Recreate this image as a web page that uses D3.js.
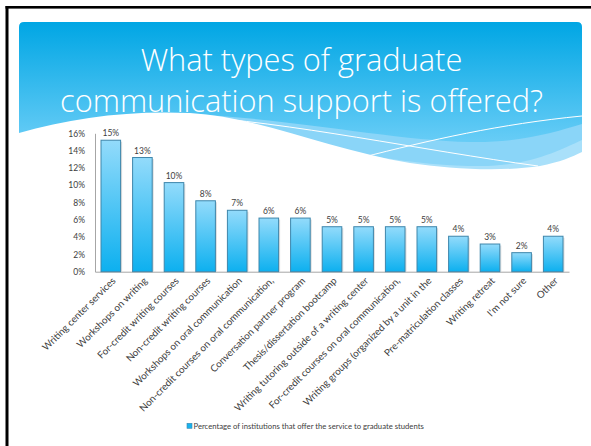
<!DOCTYPE html>
<html><head><meta charset="utf-8">
<script src="https://cdn.jsdelivr.net/npm/d3@7"></script>
<style>body{margin:0;background:#fff}svg{display:block}</style>
</head><body>
<svg id="c" width="591" height="446"></svg>
<script>
const categories = [
  "Writing center services",
  "Workshops on writing",
  "For-credit writing courses",
  "Non-credit writing courses",
  "Workshops on oral communication",
  "Non-credit courses on oral communication,",
  "Conversation partner program",
  "Thesis/dissertation bootcamp",
  "Writing tutoring outside of a writing center",
  "For-credit courses on oral communication,",
  "Writing groups (organized by a unit in the",
  "Pre-matriculation classes",
  "Writing retreat",
  "I'm not sure",
  "Other"
];
const values = [15.2, 13.2, 10.3, 8.2, 7.1, 6.2, 6.2, 5.2, 5.2, 5.2, 5.2, 4.1, 3.2, 2.2, 4.1];
const valueLabels = ["15%","13%","10%","8%","7%","6%","6%","5%","5%","5%","5%","4%","3%","2%","4%"];
const yTicks = [0, 2, 4, 6, 8, 10, 12, 14, 16];
const yTickLabels = ["0%","2%","4%","6%","8%","10%","12%","14%","16%"];
const titleLines = ["What types of graduate", "communication support is offered?"];
const seriesName = "Percentage of institutions that offer the service to graduate students";

const svg = d3.select("#c");
const defs = svg.append("defs");
const FONT = "Lato, 'Open Sans', sans-serif";

const hg = defs.append("linearGradient").attr("id","hg")
  .attr("gradientUnits","userSpaceOnUse").attr("x1",0).attr("y1",22).attr("x2",0).attr("y2",140);
hg.append("stop").attr("offset",0).attr("stop-color","#00a6e4");
hg.append("stop").attr("offset",1).attr("stop-color","#66ccf6");

const bg = defs.append("linearGradient").attr("id","bg").attr("x1",0).attr("y1",0).attr("x2",0).attr("y2",1);
bg.append("stop").attr("offset",0).attr("stop-color","#93dbfb");
bg.append("stop").attr("offset",1).attr("stop-color","#0db0ef");

// slide frame (left and top edges)
svg.append("rect").attr("x",5.5).attr("y",6).attr("width",3).attr("height",440).attr("fill","#000");
svg.append("rect").attr("x",5.5).attr("y",6).attr("width",586).attr("height",2.6).attr("fill","#000");

// header
const hdr = svg.append("g");
hdr.append("path")
  .attr("d","M19,180 L19,27 Q19,22 24,22 L577,22 Q582,22 582,27 L582,180 Z")
  .attr("fill","url(#hg)");
hdr.append("path")
  .attr("d","M185,114 C290,118 390,140 470,142 C520,143 555,132 582,124 L582,180 L185,180 Z")
  .attr("fill","#8ad5f8");
hdr.append("path")
  .attr("d","M230,125 C330,150 410,166 480,166 C530,166 560,150 582,140 L582,180 L230,180 Z")
  .attr("fill","#a9e0fa");
hdr.append("path")
  .attr("d","M19,133 C70,118 130,110 190,113 C260,117 330,150 410,163 C450,169 500,172 540,166 C560,162 572,157 582,152 L582,200 L19,200 Z")
  .attr("fill","#fff");
hdr.append("path")
  .attr("d","M185,116 C290,122 420,150 538,166")
  .attr("fill","none").attr("stroke","#fff").attr("stroke-width",1);
hdr.append("path")
  .attr("d","M360,158 C430,140 500,124 582,116")
  .attr("fill","none").attr("stroke","#fff").attr("stroke-width",1);

// title
const tg = svg.append("g").attr("fill","#fff").attr("font-family","'Open Sans', Lato, sans-serif")
  .attr("font-weight",300).attr("text-anchor","middle");
const tl = tg.selectAll("text").data(titleLines).join("text")
  .attr("x",301.5).attr("y",(d,i)=> i===0 ? 71 : 112)
  .attr("font-size",30).text(d=>d);
const w2 = tl.nodes()[1].getComputedTextLength();
tl.attr("font-size", 30 * 483 / w2);

// scales
const x = d3.scaleBand().domain(categories).range([95, 569]).paddingInner(0.38).paddingOuter(0.19);
const y = d3.scaleLinear().domain([0, 16]).range([271.7, 133.3]);

// y axis
const ya = svg.append("g").attr("transform","translate(95,0)")
  .call(d3.axisLeft(y).tickValues(yTicks).tickFormat((d,i)=>yTickLabels[i]).tickSize(0).tickPadding(10));
ya.select(".domain").attr("stroke","#a6a6a6").attr("stroke-width",1);
ya.selectAll("text").attr("font-family",FONT).attr("font-size",8.5).attr("fill","#404040");

// x axis
const xa = svg.append("g").attr("transform","translate(0,271.7)")
  .call(d3.axisBottom(x).tickSize(0).tickFormat(""));
xa.select(".domain").attr("stroke","#a6a6a6").attr("stroke-width",1);

// bars
const bars = svg.append("g");
bars.selectAll("rect.sh").data(values).join("rect").attr("class","sh")
  .attr("x",(d,i)=>x(categories[i])+1.5).attr("y",d=>y(d)+1.5)
  .attr("width",x.bandwidth()).attr("height",d=>y(0)-y(d)-1.5)
  .attr("fill","#cfcfcf").attr("opacity",0.7);
bars.selectAll("rect.b").data(values).join("rect").attr("class","b")
  .attr("x",(d,i)=>x(categories[i])).attr("y",d=>y(d))
  .attr("width",x.bandwidth()).attr("height",d=>y(0)-y(d))
  .attr("fill","url(#bg)").attr("stroke","#3e86ab").attr("stroke-width",1);

// value labels
svg.append("g").selectAll("text").data(values).join("text")
  .attr("x",(d,i)=>x(categories[i])+x.bandwidth()/2).attr("y",d=>y(d)-4)
  .attr("text-anchor","middle").attr("font-family",FONT).attr("font-size",8.5).attr("fill","#404040")
  .text((d,i)=>valueLabels[i]);

// category labels
svg.append("g").selectAll("text").data(categories).join("text")
  .attr("transform",d=>`translate(${x(d)+x.bandwidth()/2+3},279) rotate(-45)`)
  .attr("text-anchor","end").attr("dy","0.35em")
  .attr("font-family",FONT).attr("font-size",9.8).attr("fill","#404040")
  .text(d=>d);

// legend
const lg = svg.append("g");
lg.append("rect").attr("x",187).attr("y",423.3).attr("width",5).attr("height",5)
  .attr("fill","#19b2ee").attr("stroke","#3e86ab").attr("stroke-width",0.6);
lg.append("text").attr("x",193.5).attr("y",429).attr("font-family",FONT).attr("font-size",7.7)
  .attr("fill","#404040").text(seriesName);
</script>
</body></html>
